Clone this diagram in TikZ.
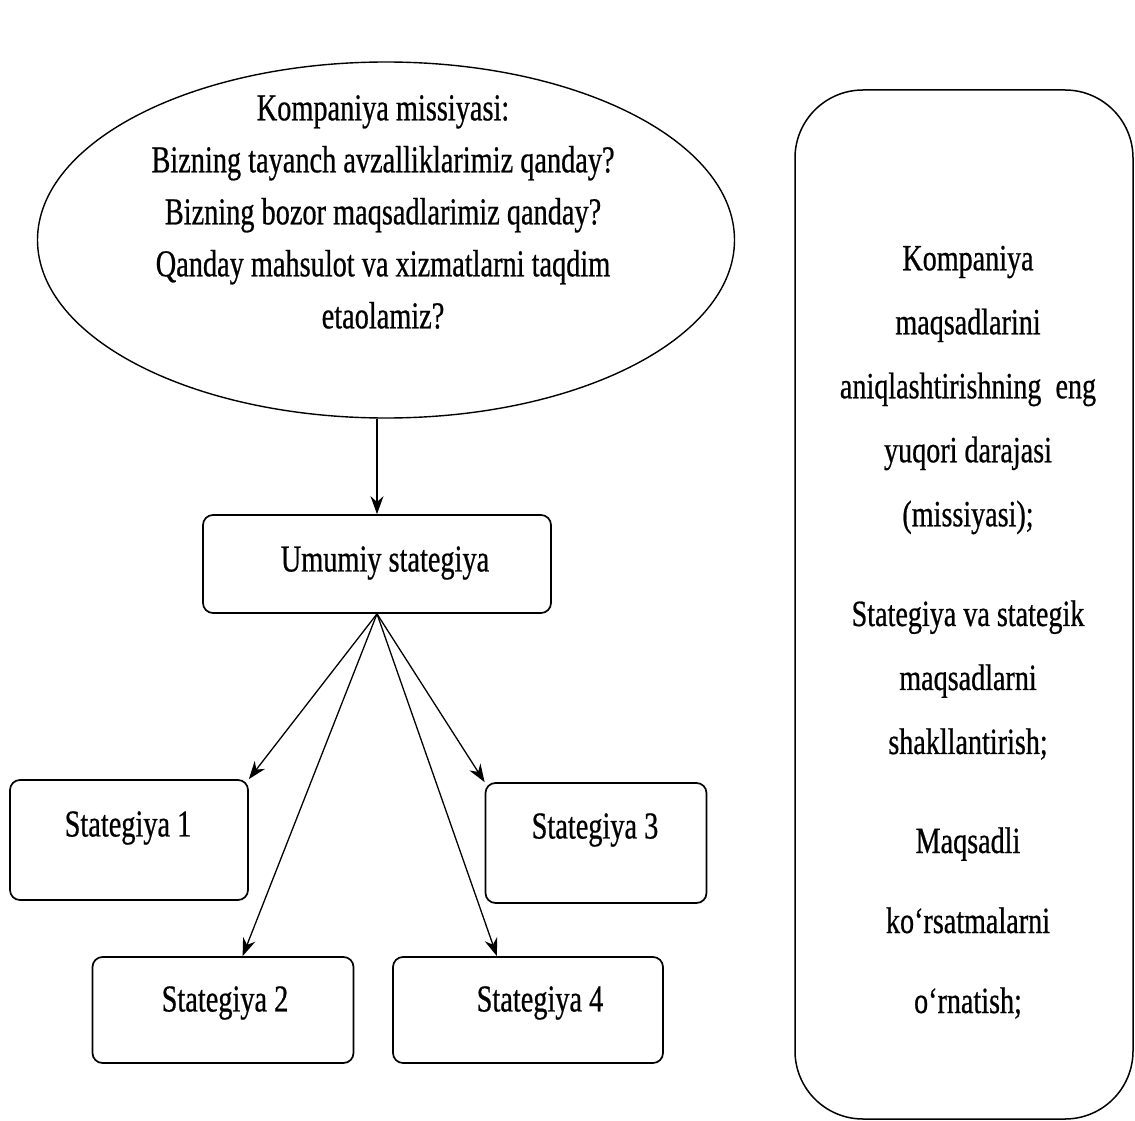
\documentclass[tikz,border=0pt]{standalone}
\usepackage{fontspec}
\usetikzlibrary{shapes.geometric,arrows.meta}
\newfontfamily\condserif[FakeStretch=0.76,FakeBold=0.6]{Liberation Serif}
\newfontfamily\narrowserif[FakeStretch=0.745,FakeBold=0.6]{Liberation Serif}
\begin{document}
\begin{tikzpicture}[x=1pt,y=-1pt,
  txt/.style={font=\narrowserif\fontsize{38}{52}\selectfont,align=center,inner sep=0pt},
  sidetxt/.style={font=\condserif\fontsize{37}{64}\selectfont,align=center,inner sep=0pt},
  boxnode/.style={draw,line width=1.7pt,rounded corners=10pt,inner sep=0pt},
  link/.style={line width=1.3pt,-{Stealth[length=18pt,width=13pt]}}]
\useasboundingbox (0,0) rectangle (1135,1121);

% mission ellipse
\node[ellipse,draw,line width=1.4pt,minimum width=697pt,minimum height=356pt,inner sep=0pt]
  (ell) at (386,240) {};
\node[txt] (elltext) at (383,212)
  {Kompaniya missiyasi:\\Bizning tayanch avzalliklarimiz qanday?\\Bizning bozor maqsadlarimiz qanday?\\Qanday mahsulot va xizmatlarni taqdim\\etaolamiz?};

% general strategy
\node[boxnode,minimum width=348pt,minimum height=98pt] (um) at (377,564) {};
\node[txt] (umtext) at (385,563) {Umumiy stategiya};

% individual strategies
\node[boxnode,minimum width=238pt,minimum height=120pt] (s1) at (129,840) {};
\node[txt] (s1text) at (128,828) {Stategiya 1};
\node[boxnode,minimum width=221pt,minimum height=120pt] (s3) at (596,843) {};
\node[txt] (s3text) at (595,830) {Stategiya 3};
\node[boxnode,minimum width=261pt,minimum height=106pt] (s2) at (223,1010) {};
\node[txt] (s2text) at (225,1003) {Stategiya 2};
\node[boxnode,minimum width=270pt,minimum height=106pt] (s4) at (528,1010) {};
\node[txt] (s4text) at (540,1003) {Stategiya 4};

% connectors
\draw[link] (um.north |- ell.south) -- (um.north);
\draw[link] (um.south) -- (s1.north east);
\draw[link] (um.south) -- (s2.70);
\draw[link] (um.south) -- (s3.north west);
\draw[link] (um.south) -- (s4.120);

% side panel
\node[draw,line width=1.5pt,rounded corners=68pt,minimum width=338pt,minimum height=1029pt,inner sep=0pt]
  (side) at (964,604.5) {};
\node[sidetxt] (sidea) at (968,390)
  {Kompaniya\\maqsadlarini\\aniqlashtirishning\ \ eng\\yuqori darajasi\\(missiyasi);};
\node[sidetxt] (sideb) at (968,680)
  {Stategiya va stategik\\maqsadlarni\\shakllantirish;};
\node[font=\condserif\fontsize{37}{80}\selectfont,align=center,inner sep=0pt] (sidec) at (968,923)
  {Maqsadli\\koʻrsatmalarni\\oʻrnatish;};
\end{tikzpicture}
\end{document}
